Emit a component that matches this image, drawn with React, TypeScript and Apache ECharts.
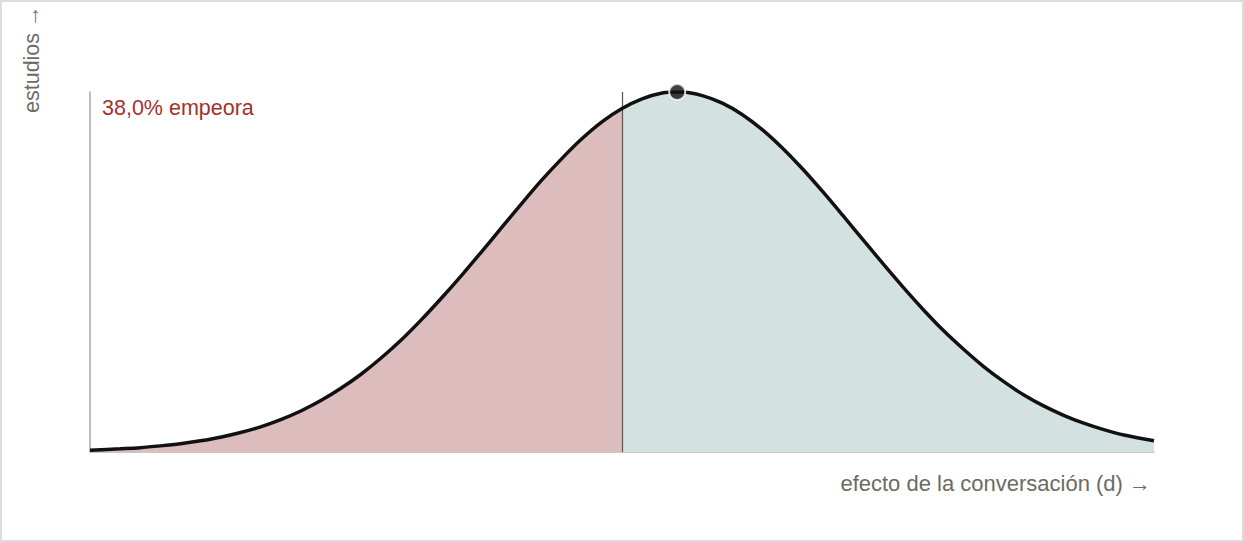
import { useEffect, useRef } from 'react'
import * as echarts from 'echarts'

const X_VALUES = [
  -0.53, -0.5, -0.48, -0.46, -0.44, -0.42, -0.4, -0.38, -0.36, -0.34, -0.32, -0.3, -0.28, -0.26, -0.24,
  -0.22, -0.2, -0.18, -0.16, -0.14, -0.12, -0.1, -0.08, -0.06, -0.04, -0.02, 0, 0.02, 0.04, 0.055, 0.06,
  0.08, 0.1, 0.12, 0.14, 0.16, 0.18, 0.2, 0.22, 0.24, 0.26, 0.28, 0.3, 0.32, 0.34, 0.36, 0.38, 0.4, 0.42,
  0.44, 0.46, 0.48, 0.5, 0.53,
]
const Y_VALUES = [
  0.005, 0.009, 0.012, 0.017, 0.023, 0.031, 0.041, 0.054, 0.07, 0.09, 0.114, 0.143, 0.177, 0.216, 0.261,
  0.311, 0.367, 0.427, 0.49, 0.556, 0.623, 0.69, 0.755, 0.815, 0.87, 0.917, 0.954, 0.981, 0.997, 1, 1,
  0.99, 0.969, 0.937, 0.895, 0.844, 0.786, 0.723, 0.657, 0.59, 0.523, 0.458, 0.396, 0.338, 0.286, 0.238,
  0.196, 0.159, 0.128, 0.102, 0.08, 0.062, 0.047, 0.031,
]
const PEAK = [0.055, 1]
const SPLIT_X = 0
const X_MIN = -0.53
const X_MAX = 0.53

const PCT_LABEL = '38,0% empeora'
const LINE_LABEL = 'no decir nada'
const X_NAME = 'efecto de la conversación (d) →'
const Y_NAME = 'estudios →'

const FONT = '"Liberation Sans", Arial, sans-serif'
const GREY_TEXT = '#6b6b64'

export default function App() {
  const ref = useRef<HTMLDivElement>(null)

  useEffect(() => {
    if (!ref.current) return
    const chart = echarts.init(ref.current, null, { renderer: 'svg' })
    const points = X_VALUES.map((x, i) => [x, Y_VALUES[i]])
    const left = points.filter((p) => p[0] <= SPLIT_X)
    const right = points.filter((p) => p[0] >= SPLIT_X)

    chart.setOption({
      animation: false,
      backgroundColor: '#fff',
      textStyle: { fontFamily: FONT },
      grid: { left: 88, right: 88, top: 90, bottom: 88 },
      xAxis: {
        type: 'value',
        min: X_MIN,
        max: X_MAX,
        axisLine: { show: true, onZero: false, lineStyle: { color: '#b4b4b4', width: 1.5 } },
        axisTick: { show: false },
        axisLabel: { show: false },
        splitLine: { show: false },
      },
      yAxis: {
        type: 'value',
        min: 0,
        max: 1,
        axisLine: { show: true, onZero: false, lineStyle: { color: '#a8a8a8', width: 1.5 } },
        axisTick: { show: false },
        axisLabel: { show: false },
        splitLine: { show: false },
      },
      series: [
        {
          type: 'line',
          data: left,
          smooth: 0.3,
          symbol: 'none',
          lineStyle: { width: 0 },
          areaStyle: { color: '#dcbcbc', opacity: 1 },
          silent: true,
        },
        {
          type: 'line',
          data: right,
          smooth: 0.3,
          symbol: 'none',
          lineStyle: { width: 0 },
          areaStyle: { color: '#d4e1e1', opacity: 1 },
          silent: true,
          markLine: {
            silent: true,
            symbol: 'none',
            label: { show: false },
            lineStyle: { color: '#555', width: 1.2, type: 'solid' },
            data: [{ xAxis: SPLIT_X }],
          },
        },
        {
          type: 'line',
          data: points,
          smooth: 0.3,
          symbol: 'none',
          lineStyle: { color: '#111', width: 3.5 },
          z: 5,
        },
        {
          type: 'scatter',
          data: [PEAK],
          symbol: 'circle',
          symbolSize: 16,
          itemStyle: { color: '#111', borderColor: '#fbfaf5', borderWidth: 2 },
          z: 6,
        },
      ],
      graphic: [
        {
          type: 'text',
          left: 100,
          top: 95,
          style: { text: PCT_LABEL, fill: '#a03232', font: `21.5px ${FONT}` },
        },
        {
          type: 'text',
          left: 633,
          top: 419,
          style: { text: LINE_LABEL, fill: GREY_TEXT, font: `21.5px ${FONT}` },
        },
        {
          type: 'text',
          right: 91,
          top: 470,
          style: { text: X_NAME, fill: GREY_TEXT, font: `22px ${FONT}` },
        },
        {
          type: 'text',
          x: 30,
          y: 111,
          rotation: Math.PI / 2,
          style: {
            text: Y_NAME,
            fill: GREY_TEXT,
            font: `21.5px ${FONT}`,
            align: 'left',
            verticalAlign: 'middle',
          },
        },
      ],
    })

    const onResize = () => chart.resize()
    window.addEventListener('resize', onResize)
    return () => {
      window.removeEventListener('resize', onResize)
      chart.dispose()
    }
  }, [])

  return (
    <div
      style={{
        position: 'fixed',
        left: 0,
        top: 0,
        width: 1244,
        height: 542,
        boxSizing: 'border-box',
        border: '2px solid #dcdcdc',
        background: '#fff',
      }}
    >
      <div ref={ref} style={{ width: '100%', height: '100%' }} />
    </div>
  )
}
